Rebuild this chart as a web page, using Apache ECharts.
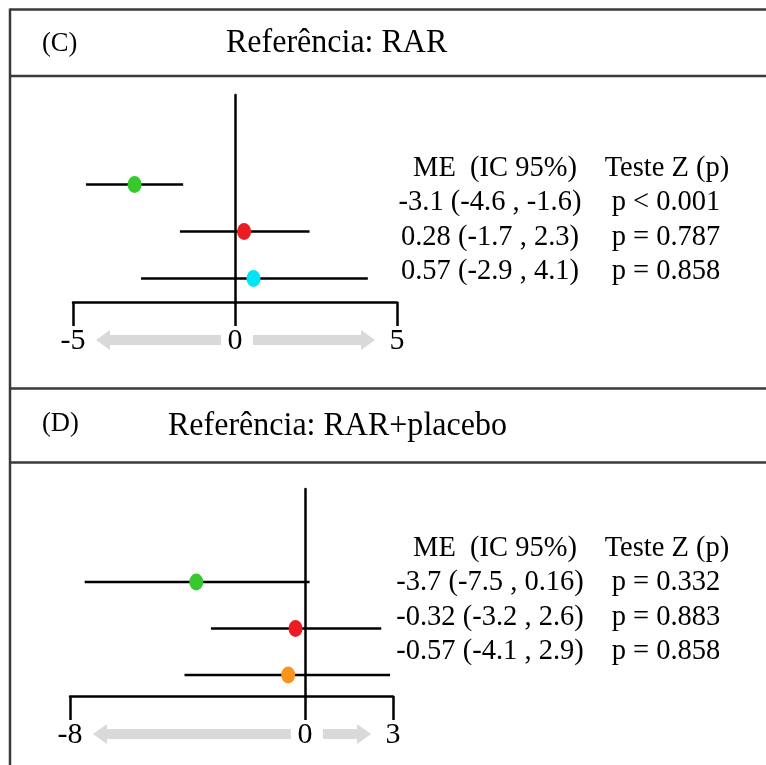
<!DOCTYPE html>
<html><head><meta charset="utf-8">
<script src="https://cdn.jsdelivr.net/npm/echarts@6/dist/echarts.min.js"></script>
<style>html,body{margin:0;padding:0;background:#fff}#c{width:766px;height:765px}</style>
</head><body><div id="c"></div>
<script>
// ---- data ----
const rows = [1, 2, 3];
const estC = [-3.1, 0.28, 0.57];
const loC  = [-4.6, -1.7, -2.9];
const hiC  = [-1.6, 2.3, 4.1];
const pC   = ['p < 0.001', 'p = 0.787', 'p = 0.858'];
const colorC = ['#35c92f', '#ed1c24', '#00e5f5'];
const ticksC = [-5, 0, 5];

const estD = [-3.7, -0.32, -0.57];
const loD  = [-7.5, -3.2, -4.1];
const hiD  = [0.16, 2.6, 2.9];
const pD   = ['p = 0.332', 'p = 0.883', 'p = 0.858'];
const colorD = ['#35c92f', '#ed1c24', '#f7941d'];
const ticksD = [-8, 0, 3];

const tagC = '(C)', titleC = 'Referência: RAR';
const tagD = '(D)', titleD = 'Referência: RAR+placebo';
const headME = 'ME  (IC 95%)', headP = 'Teste Z (p)';

// ---- styles ----
const SERIF = '"Liberation Serif", "Times New Roman", serif';
const chart = echarts.init(document.getElementById('c'));

function xAxisFor(gi, ticks) {
  return {
    gridIndex: gi, type: 'value', min: ticks[0], max: ticks[ticks.length - 1],
    axisLine: { onZero: false, lineStyle: { color: '#000', width: 2.5 } },
    axisTick: { show: true, customValues: ticks, length: 24, lineStyle: { color: '#000', width: 2.5 } },
    axisLabel: { customValues: ticks, margin: 24, fontSize: 30, fontFamily: SERIF, color: '#000' },
    splitLine: { show: false }
  };
}
function yAxisFor(gi, mn, mx) {
  return {
    gridIndex: gi, type: 'value', inverse: true, min: mn, max: mx,
    axisLine: { show: true, onZero: true, lineStyle: { color: '#000', width: 2.5 } },
    axisTick: { show: false }, axisLabel: { show: false }, splitLine: { show: false }
  };
}
function ciSeries(gi, lo, hi) {
  return {
    type: 'custom', xAxisIndex: gi, yAxisIndex: gi, z: 2,
    data: rows.map((r, i) => [lo[i], hi[i], r]),
    encode: { x: [0, 1], y: 2 },
    renderItem: (params, api) => {
      const a = api.coord([api.value(0), api.value(2)]);
      const b = api.coord([api.value(1), api.value(2)]);
      return { type: 'line', shape: { x1: a[0], y1: a[1], x2: b[0], y2: b[1] },
               style: { stroke: '#000', lineWidth: 2.5 } };
    }
  };
}
function dotSeries(gi, est, colors) {
  return {
    type: 'scatter', xAxisIndex: gi, yAxisIndex: gi, z: 3,
    symbol: 'circle', symbolSize: [14, 17],
    data: rows.map((r, i) => ({ value: [est[i], r], itemStyle: { color: colors[i], opacity: 1 } })),
    emphasis: { disabled: true }
  };
}
function arrowSeries(gi, ticks) {
  return {
    type: 'custom', xAxisIndex: gi, yAxisIndex: gi, clip: false, z: 1, silent: true,
    data: [[ticks[0], 0, ticks[ticks.length - 1]]],
    renderItem: (params, api) => {
      const cs = params.coordSys;
      const y = cs.y + cs.height + 38;
      const x0 = api.coord([api.value(0), 1])[0];
      const xz = api.coord([api.value(1), 1])[0];
      const x1 = api.coord([api.value(2), 1])[0];
      const sh = 5, hh = 10, hl = 14;
      const lt = x0 + 23, ltail = xz - 14;
      const rs = xz + 18, rt = x1 - 22;
      const left = [[lt, y], [lt + hl, y - hh], [lt + hl, y - sh], [ltail, y - sh], [ltail, y + sh], [lt + hl, y + sh], [lt + hl, y + hh]];
      const right = [[rt, y], [rt - hl, y - hh], [rt - hl, y - sh], [rs, y - sh], [rs, y + sh], [rt - hl, y + sh], [rt - hl, y + hh]];
      return { type: 'group', children: [
        { type: 'polygon', shape: { points: left }, style: { fill: '#d9d9d9' } },
        { type: 'polygon', shape: { points: right }, style: { fill: '#d9d9d9' } }
      ] };
    }
  };
}
function txt(x, y, text, size, align, sx) {
  return { type: 'text', x: x, y: y, silent: true, scaleX: sx || 1,
    style: { text: text, fill: '#000', font: size + 'px ' + SERIF, align: align || 'center', verticalAlign: 'middle' } };
}
function hline(y) {
  return { type: 'line', silent: true, shape: { x1: 10, y1: y, x2: 766, y2: y }, style: { stroke: '#3a3a3a', lineWidth: 2.5 } };
}
function tableFor(yHead, est, lo, hi, p) {
  const out = [txt(495, yHead, headME, 30, 'center', 0.95), txt(667, yHead, headP, 30, 'center', 0.95)];
  rows.forEach((r, i) => {
    const yy = yHead + 34.5 * (i + 1);
    out.push(txt(490, yy, est[i] + ' (' + lo[i] + ' , ' + hi[i] + ')', 30, 'center', 0.95));
    out.push(txt(666, yy, p[i], 30, 'center', 0.95));
  });
  return out;
}

const graphics = [
  hline(9.5), hline(76), hline(388.5), hline(462.5),
  { type: 'line', silent: true, shape: { x1: 10, y1: 8.5, x2: 10, y2: 765 }, style: { stroke: '#3a3a3a', lineWidth: 2.5 } },
  txt(42, 44, tagC, 28, 'left', 0.95), txt(226, 43, titleC, 33, 'left', 0.97),
  txt(42, 424, tagD, 28, 'left', 0.95), txt(168, 426, titleD, 33, 'left', 0.97)
].concat(tableFor(168, estC, loC, hiC, pC)).concat(tableFor(548, estD, loD, hiD, pD));

chart.setOption({
  animation: false,
  backgroundColor: '#fff',
  grid: [
    { left: 73, width: 324, top: 95, height: 207, containLabel: false, outerBoundsMode: 'none' },
    { left: 70, width: 323, top: 489, height: 207, containLabel: false, outerBoundsMode: 'none' }
  ],
  xAxis: [xAxisFor(0, ticksC), xAxisFor(1, ticksD)],
  yAxis: [yAxisFor(0, -0.9, 3.5), yAxisFor(1, -1, 3.45)],
  series: [
    arrowSeries(0, ticksC), ciSeries(0, loC, hiC), dotSeries(0, estC, colorC),
    arrowSeries(1, ticksD), ciSeries(1, loD, hiD), dotSeries(1, estD, colorD)
  ],
  graphic: graphics
});
</script></body></html>
